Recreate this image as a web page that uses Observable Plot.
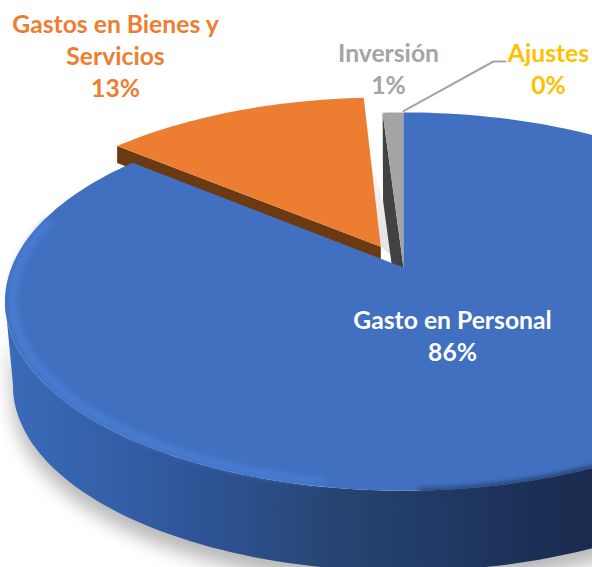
<!DOCTYPE html>
<html lang="es">
<head>
<meta charset="utf-8">
<style>html,body{margin:0;padding:0;background:#fff;overflow:hidden}svg{display:block}</style>
<script src="https://cdn.jsdelivr.net/npm/d3@7"></script>
<script src="https://cdn.jsdelivr.net/npm/@observablehq/plot@0.6"></script>
</head>
<body>
<script>
// Data
const categories = ["Gasto en Personal", "Gastos en Bienes y\nServicios", "Inversión", "Ajustes"];
const shares = [86, 13, 1, 0];
const pctLabels = ["86%", "13%", "1%", "0%"];
const colors = ["#4170C0", "#ED7D31", "#A5A5A5", "#FFC000"];
const labelColors = ["#FFFFFF", "#ED7D31", "#A5A5A5", "#FFC000"];

// Layout of the labels, in picture pixels
const labelX = [452, 115, 388, 548];
const labelY = [334, 54, 67, 67];

// Pie geometry (tilted disc seen in perspective)
const W = 592, H = 567, CX = 403, CY = 267, RX = 392, RY = 183;
const K = 0.18, BOTTOM_SCALE = 0.98, BOTTOM_SHIFT = 85 / RY, EXPLODE = 0.13, BROWN_DEPTH = 17 / RY;
const total = d3.sum(shares);
const edges = d3.cumsum(shares).map(s => s / total * 360);
const rad = d => d * Math.PI / 180;

function proj(theta, r = 1, off = [0, 0]) {
  const u = Math.sin(rad(theta)) * r + off[0];
  const v = -Math.cos(rad(theta)) * r + off[1];
  const w = 1 - K * v;
  return {x: u / w, y: v / w};
}
const down = p => ({x: p.x * BOTTOM_SCALE, y: p.y * BOTTOM_SCALE + BOTTOM_SHIFT});
const arc = (a, b, r = 1, off) => {
  const n = Math.max(2, Math.ceil(Math.abs(b - a) / 1.5));
  return d3.range(n + 1).map(i => proj(a + (b - a) * i / n, r, off));
};
const lerp = (a, b, t) => ({x: a.x + (b.x - a.x) * t, y: a.y + (b.y - a.y) * t});
const fromPx = (px, py) => ({x: (px - CX) / RX, y: (py - CY) / RY});

const apex = proj(0, 0);
// Blue
const blueTop = [apex, ...arc(0, edges[0])];
const blueWall = [...arc(60, 260), ...arc(60, 260).map(down).reverse()];
const shadowRing = blueWall.map(p => ({x: p.x, y: p.y + 14 / RY}));
// Orange, pulled out along its middle angle
const mid = (edges[0] + edges[1]) / 2;
const off = [Math.sin(rad(mid)) * EXPLODE, -Math.cos(rad(mid)) * EXPLODE];
const orangeApex = proj(0, 0, off);
const orangeRim = arc(edges[0], edges[1], 1, off);
const orangeTop = [orangeApex, ...orangeRim];
const orangeLeft = orangeRim[0];
const orangeWall = [orangeApex, orangeLeft,
  {x: orangeLeft.x, y: orangeLeft.y + BROWN_DEPTH}, {x: orangeApex.x, y: orangeApex.y + BROWN_DEPTH}];
// Grey
const greyRim = arc(edges[1], edges[2]);
const greyTop = [apex, ...greyRim];
const darkWall = [apex, greyRim[0], down(greyRim[0]), down(apex)];
// soft shadow in the gap between orange and grey
const gap = [lerp(orangeApex, orangeRim[orangeRim.length - 1], 0.6), orangeApex, apex, down(greyRim[0])];
// Leader of Ajustes
const leader = [proj(edges[3], 1.01), fromPx(493, 61), fromPx(505, 61)];

const poly = (pts, opts) => Plot.line(pts, {x: "x", y: "y", stroke: "none", curve: "linear", ...opts});

function defs() {
  const d = d3.create("svg:defs");
  const grad = (id, attrs, stops) => {
    const g = d.append("linearGradient").attr("id", id).attr("gradientUnits", "userSpaceOnUse");
    Object.entries(attrs).forEach(([k, v]) => g.attr(k, v));
    stops.forEach(([o, c, a = 1]) => g.append("stop").attr("offset", o).attr("stop-color", c).attr("stop-opacity", a));
  };
  grad("wall", {x1: 0, x2: 592, y1: 0, y2: 0}, [
    [0, "#3B6CBA"], [0.12, "#3664AE"], [0.34, "#2F5496"], [0.55, "#274675"], [0.72, "#213A66"], [1, "#1A2B4E"]
  ]);
  grad("rim", {x1: 0, x2: 430, y1: 0, y2: 0}, [
    [0, "#4C84DE"], [0.65, "#4C84DE"], [1, "#4C84DE", 0]
  ]);
  grad("gapShade", {x1: 0, x2: 0, y1: 150, y2: 225}, [
    [0, "#E6E6E6", 0], [1, "#E6E6E6"]
  ]);
  return d.node();
}

const labelRows = categories.map((c, i) => ({
  text: c + "\n" + pctLabels[i], color: labelColors[i],
  ...fromPx(labelX[i], labelY[i])
}));

const chart = Plot.plot({
  width: W, height: H, margin: 0,
  x: {domain: [-CX / RX, (W - CX) / RX], range: [0, W], axis: null},
  y: {domain: [-CY / RY, (H - CY) / RY], range: [0, H], axis: null},
  style: {background: "transparent"},
  marks: [
    defs,
    poly(shadowRing, {fill: "#000", fillOpacity: 0.28, imageFilter: "blur(9px)"}),
    poly(blueWall, {fill: "url(#wall)"}),
    poly(gap, {fill: "url(#gapShade)"}),
    poly(orangeWall, {fill: "#6B3A13"}),
    poly(orangeTop, {fill: colors[1]}),
    poly(darkWall, {fill: "#424242"}),
    poly(greyTop, {fill: colors[2]}),
    poly(blueTop, {fill: colors[0]}),
    Plot.line(arc(190, 285, 0.982), {x: "x", y: "y", stroke: "url(#rim)", strokeWidth: 7, strokeOpacity: 0.75, imageFilter: "blur(3px)"}),
    Plot.line(arc(88, 178, 1), {x: "x", y: "y", stroke: "url(#wall)", strokeWidth: 4, imageFilter: "blur(2.5px)"}),
    Plot.line(leader, {x: "x", y: "y", stroke: colors[2], strokeWidth: 2, curve: "linear"}),
    Plot.text(labelRows, {
      x: "x", y: "y", text: "text", fill: "color",
      fontFamily: "Lato", fontWeight: 700, fontSize: 24.7, lineHeight: 1.3, textAnchor: "middle"
    })
  ]
});
document.body.appendChild(chart);
</script>
</body>
</html>
